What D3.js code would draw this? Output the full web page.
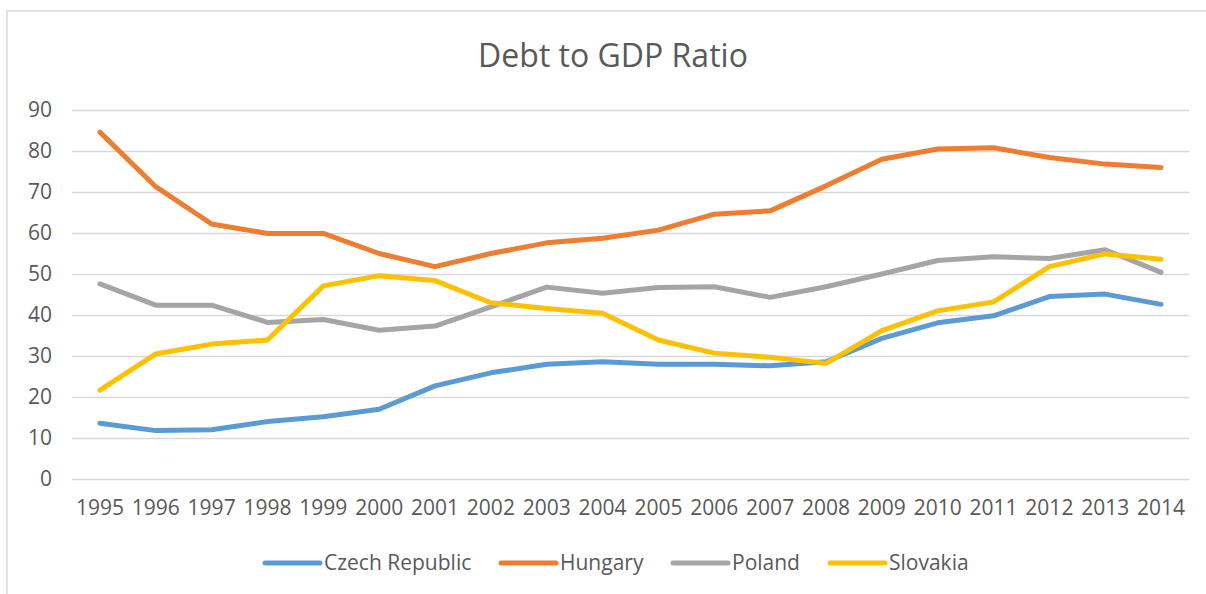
<!DOCTYPE html>
<html>
<head>
<meta charset="utf-8">
<script src="https://cdn.jsdelivr.net/npm/d3@7"></script>
<style>
  html, body { margin: 0; padding: 0; background: #fff; }
  svg { display: block; }
  text { font-family: "Open Sans", "Lato", sans-serif; fill: #595959; }
</style>
</head>
<body>
<svg id="chart" width="1206" height="594"></svg>
<script>
// Debt to GDP ratio (% of GDP), 1995–2014
const years = ["1995","1996","1997","1998","1999","2000","2001","2002","2003","2004",
               "2005","2006","2007","2008","2009","2010","2011","2012","2013","2014"];
const czechRepublic = [13.6, 11.8, 12.0, 14.0, 15.2, 17.0, 22.7, 25.9, 28.0, 28.6,
                       28.0, 28.0, 27.6, 28.6, 34.3, 38.1, 39.8, 44.5, 45.1, 42.6];
const hungary       = [84.6, 71.3, 62.2, 59.9, 59.9, 55.0, 51.8, 55.0, 57.6, 58.7,
                       60.7, 64.6, 65.4, 71.5, 78.0, 80.5, 80.8, 78.4, 76.8, 76.0];
const poland        = [47.6, 42.4, 42.4, 38.2, 38.9, 36.3, 37.3, 42.0, 46.8, 45.3,
                       46.7, 46.9, 44.3, 46.9, 50.0, 53.3, 54.2, 53.8, 55.9, 50.4];
const slovakia      = [21.7, 30.5, 32.9, 33.9, 47.1, 49.6, 48.4, 43.0, 41.6, 40.4,
                       33.9, 30.7, 29.7, 28.2, 36.2, 41.0, 43.2, 51.8, 54.9, 53.6];
const seriesNames = ["Czech Republic", "Hungary", "Poland", "Slovakia"];
const yTicks = [0, 10, 20, 30, 40, 50, 60, 70, 80, 90];
const chartTitle = "Debt to GDP Ratio";

const series = [
  { name: seriesNames[0], values: czechRepublic, color: "#5B9BD5" },
  { name: seriesNames[1], values: hungary,       color: "#ED7D31" },
  { name: seriesNames[2], values: poland,        color: "#A5A5A5" },
  { name: seriesNames[3], values: slovakia,      color: "#FFC000" }
];

const svg = d3.select("#chart");

// outer chart frame
svg.append("rect")
  .attr("x", 7).attr("y", 11)
  .attr("width", 1220).attr("height", 600)
  .attr("fill", "none")
  .attr("stroke", "#d9d9d9")
  .attr("stroke-width", 1.5);

const plot = { left: 72, right: 1189, top: 110, bottom: 479 };

const x = d3.scaleBand().domain(years).range([plot.left, plot.right]);
const y = d3.scaleLinear().domain([0, 90]).range([plot.bottom, plot.top]);

// title
svg.append("text")
  .attr("x", 613).attr("y", 67)
  .attr("text-anchor", "middle")
  .style("font-size", "32px")
  .text(chartTitle);

// horizontal gridlines
const yAxis = d3.axisLeft(y).tickValues(yTicks).tickSize(-(plot.right - plot.left)).tickPadding(20);
const gy = svg.append("g").attr("transform", `translate(${plot.left},0)`).call(yAxis);
gy.select(".domain").remove();
gy.selectAll(".tick line").attr("stroke", "#d9d9d9").attr("stroke-width", 1.5);
gy.selectAll(".tick text")
  .attr("x", -20)
  .style("font-size", "21px")
  .style("font-family", "'Open Sans', sans-serif")
  .attr("fill", "#595959");

// category axis labels
const xAxis = d3.axisBottom(x).tickSize(0).tickPadding(21);
const gx = svg.append("g").attr("transform", `translate(0,${plot.bottom})`).call(xAxis);
gx.select(".domain").remove();
gx.selectAll(".tick text")
  .style("font-size", "21px")
  .style("font-family", "'Open Sans', sans-serif")
  .attr("fill", "#595959");

// series lines
const line = d3.line()
  .x((d, i) => x(years[i]) + x.bandwidth() / 2)
  .y(d => y(d));

svg.append("g").selectAll("path")
  .data(series)
  .join("path")
  .attr("d", d => line(d.values))
  .attr("fill", "none")
  .attr("stroke", d => d.color)
  .attr("stroke-width", 5)
  .attr("stroke-linejoin", "round")
  .attr("stroke-linecap", "round");

// legend
const legendX = [265, 501, 673, 830];
const legend = svg.append("g").attr("transform", "translate(0,563)");
const items = legend.selectAll("g").data(series).join("g")
  .attr("transform", (d, i) => `translate(${legendX[i]},0)`);
items.append("line")
  .attr("x1", 0).attr("x2", 55).attr("y1", 0).attr("y2", 0)
  .attr("stroke", d => d.color)
  .attr("stroke-width", 5)
  .attr("stroke-linecap", "round");
items.append("text")
  .attr("x", 59).attr("y", 0).attr("dy", "0.35em")
  .style("font-size", "21px")
  .text(d => d.name);
</script>
</body>
</html>
